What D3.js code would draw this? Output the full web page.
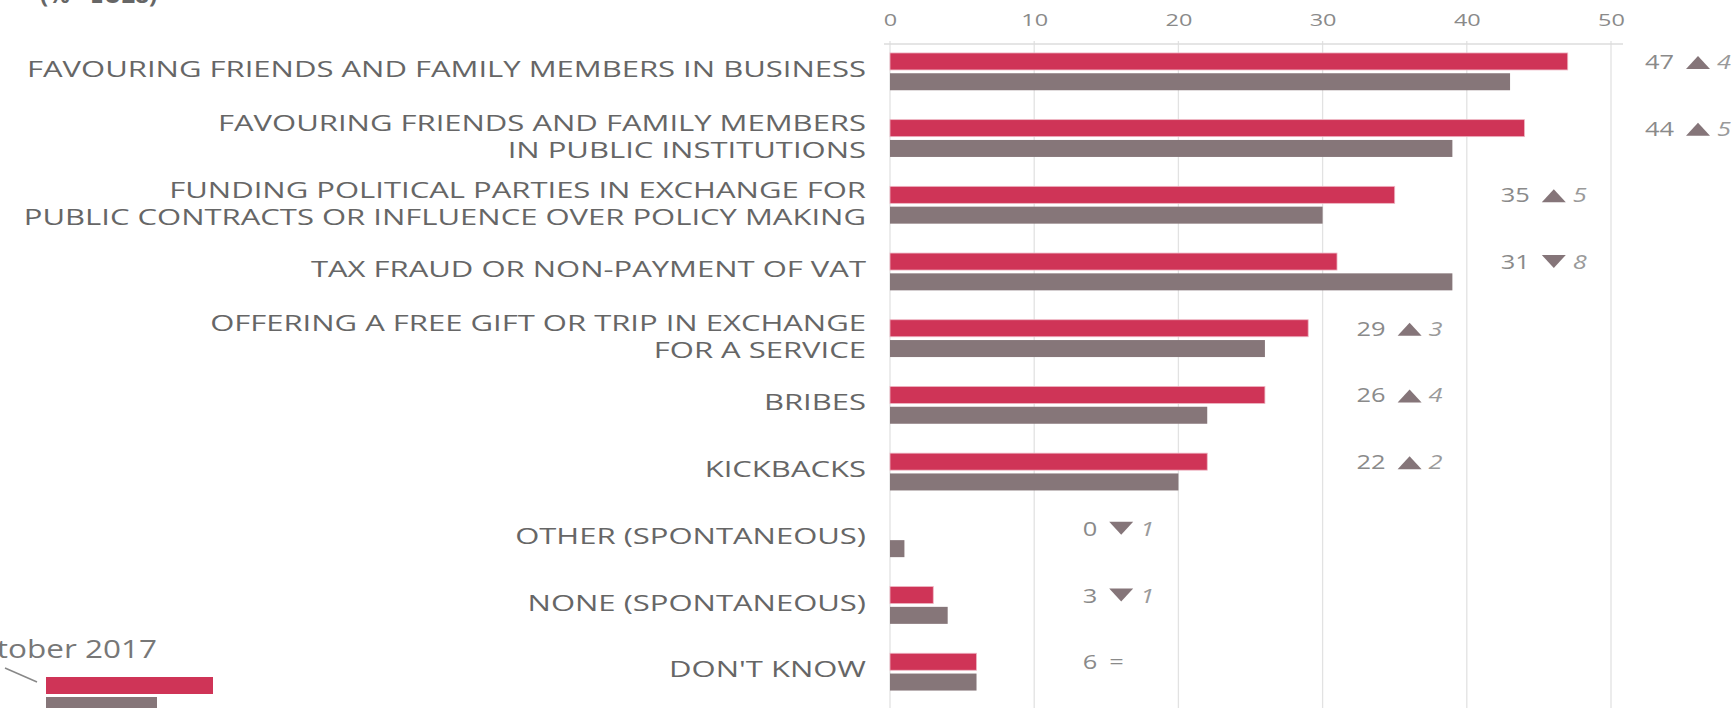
<!DOCTYPE html>
<html>
<head>
<meta charset="utf-8">
<script src="https://cdn.jsdelivr.net/npm/d3@7"></script>
<style>
  body { margin: 0; background: #fff; overflow: hidden; }
  svg { display: block; font-family: "Open Sans", sans-serif; }
</style>
</head>
<body>
<svg id="chart" width="1735" height="708"></svg>
<script>
// category labels, one entry per line
const categories = [
  ["FAVOURING FRIENDS AND FAMILY MEMBERS IN BUSINESS"],
  ["FAVOURING FRIENDS AND FAMILY MEMBERS", "IN PUBLIC INSTITUTIONS"],
  ["FUNDING POLITICAL PARTIES IN EXCHANGE FOR", "PUBLIC CONTRACTS OR INFLUENCE OVER POLICY MAKING"],
  ["TAX FRAUD OR NON-PAYMENT OF VAT"],
  ["OFFERING A FREE GIFT OR TRIP IN EXCHANGE", "FOR A SERVICE"],
  ["BRIBES"],
  ["KICKBACKS"],
  ["OTHER (SPONTANEOUS)"],
  ["NONE (SPONTANEOUS)"],
  ["DON'T KNOW"]
]
const oct2017 = [47, 44, 35, 31, 29, 26, 22, 0, 3, 6]
const previous = [43, 39, 30, 39, 26, 22, 20, 1, 4, 6]
const xTicks = [0, 10, 20, 30, 40, 50]
const legendLabel = "October 2017"
const noteLabel = "(% - EU28)"

const red = "#cf3457"
const grey = "#867679"
// the source picture is stretched sideways, so text is widened to match
const stretch = 1.41

const svg = d3.select('#chart')

const x = d3.scaleLinear()
  .domain([0, 50])
  .range([890, 1611])

const y = d3.scaleBand()
  .domain(d3.range(categories.length))
  .range([38.1, 705.1])

const rowMid = i => y(i) + y.bandwidth() / 2

// gridlines
svg.append('g')
  .selectAll('line')
  .data(xTicks)
  .join('line')
    .attr('x1', d => x(d)).attr('x2', d => x(d))
    .attr('y1', 41).attr('y2', 708)
    .attr('stroke', '#e2e2e2')
    .attr('stroke-width', 1.3)

svg.append('line')
  .attr('x1', x(0) - 6).attr('x2', x(50) + 12)
  .attr('y1', 44).attr('y2', 44)
  .attr('stroke', '#dcdcdc')
  .attr('stroke-width', 1.3)

// tick labels
const axis = svg.append('g')
  .attr('transform', 'translate(0, 26)')
  .call(d3.axisTop(x).tickValues(xTicks).tickSize(0).tickPadding(0))
axis.select('.domain').remove()
axis.selectAll('.tick text')
  .attr('font-family', '"Open Sans", sans-serif')
  .attr('font-size', 17)
  .attr('fill', '#8a8a8a')
  .attr('dy', 0)
  .attr('transform', 'scale(1.38, 1)')

// bars
const rows = svg.append('g')
  .selectAll('g')
  .data(categories.map((c, i) => ({ lines: c, cur: oct2017[i], prev: previous[i], i })))
  .join('g')

rows.append('rect')
  .attr('x', x(0))
  .attr('y', d => rowMid(d.i) - 18.5)
  .attr('width', d => x(d.cur) - x(0))
  .attr('height', 17)
  .attr('fill', red)
  .attr('stroke', '#eeb6c3')
  .attr('stroke-width', 0.8)

rows.append('rect')
  .attr('x', x(0))
  .attr('y', d => rowMid(d.i) + 1.8)
  .attr('width', d => x(d.prev) - x(0))
  .attr('height', 17)
  .attr('fill', grey)

// category labels
rows.append('g')
  .attr('transform', `translate(866, 0) scale(${stretch}, 1)`)
  .append('text')
  .attr('text-anchor', 'end')
  .attr('font-size', 22)
  .attr('font-weight', 400)
  .attr('fill', '#666')
  .selectAll('tspan')
  .data(d => d.lines.map((t, k) => ({ t, k, n: d.lines.length, i: d.i })))
  .join('tspan')
    .attr('x', 0)
    .attr('y', d => d.n === 1 ? rowMid(d.i) + 5.5 : rowMid(d.i) - 7 + d.k * 27)
    .text(d => d.t)

// value and change annotations, placed in the grid column after the longer bar
const colX = d => x(Math.max(10, Math.ceil(Math.max(d.cur, d.prev) / 10) * 10))
const ann = rows.append('g')
  .attr('transform', d => `translate(${colX(d)}, ${rowMid(d.i) - 2.5})`)

ann.append('text')
  .attr('transform', 'translate(63, 0) scale(1.27, 1)')
  .attr('text-anchor', 'end')
  .attr('font-size', 20)
  .attr('fill', '#8a8a8a')
  .text(d => d.cur)

ann.filter(d => d.cur !== d.prev)
  .append('path')
  .attr('d', d => d.cur > d.prev
    ? 'M75,0 L99,0 L87,-13 Z'
    : 'M75,-14 L99,-14 L87,-1 Z')
  .attr('fill', '#857579')

ann.filter(d => d.cur !== d.prev)
  .append('text')
  .attr('transform', 'translate(106, 0) scale(1.27, 1)')
  .attr('font-size', 20)
  .attr('font-style', 'italic')
  .attr('fill', '#9a9a9a')
  .text(d => Math.abs(d.cur - d.prev))

ann.filter(d => d.cur === d.prev)
  .append('text')
  .attr('transform', 'translate(75, 0) scale(1.27, 1)')
  .attr('font-size', 20)
  .attr('fill', '#8a8a8a')
  .text('=')

// legend
svg.append('text')
  .attr('transform', 'translate(157, 658) scale(1.26, 1)')
  .attr('text-anchor', 'end')
  .attr('font-size', 25)
  .attr('fill', '#777')
  .text(legendLabel)

svg.append('line')
  .attr('x1', 5).attr('y1', 668)
  .attr('x2', 37).attr('y2', 682)
  .attr('stroke', '#888')
  .attr('stroke-width', 1.5)

svg.append('rect')
  .attr('x', 46).attr('y', 677)
  .attr('width', 167).attr('height', 17)
  .attr('fill', red)

svg.append('rect')
  .attr('x', 46).attr('y', 697)
  .attr('width', 111).attr('height', 17)
  .attr('fill', grey)

// partly cut-off note at the top
svg.append('text')
  .attr('x', 40).attr('y', 3)
  .attr('font-size', 24)
  .attr('font-weight', 700)
  .attr('fill', '#666')
  .text(noteLabel)
</script>
</body>
</html>
